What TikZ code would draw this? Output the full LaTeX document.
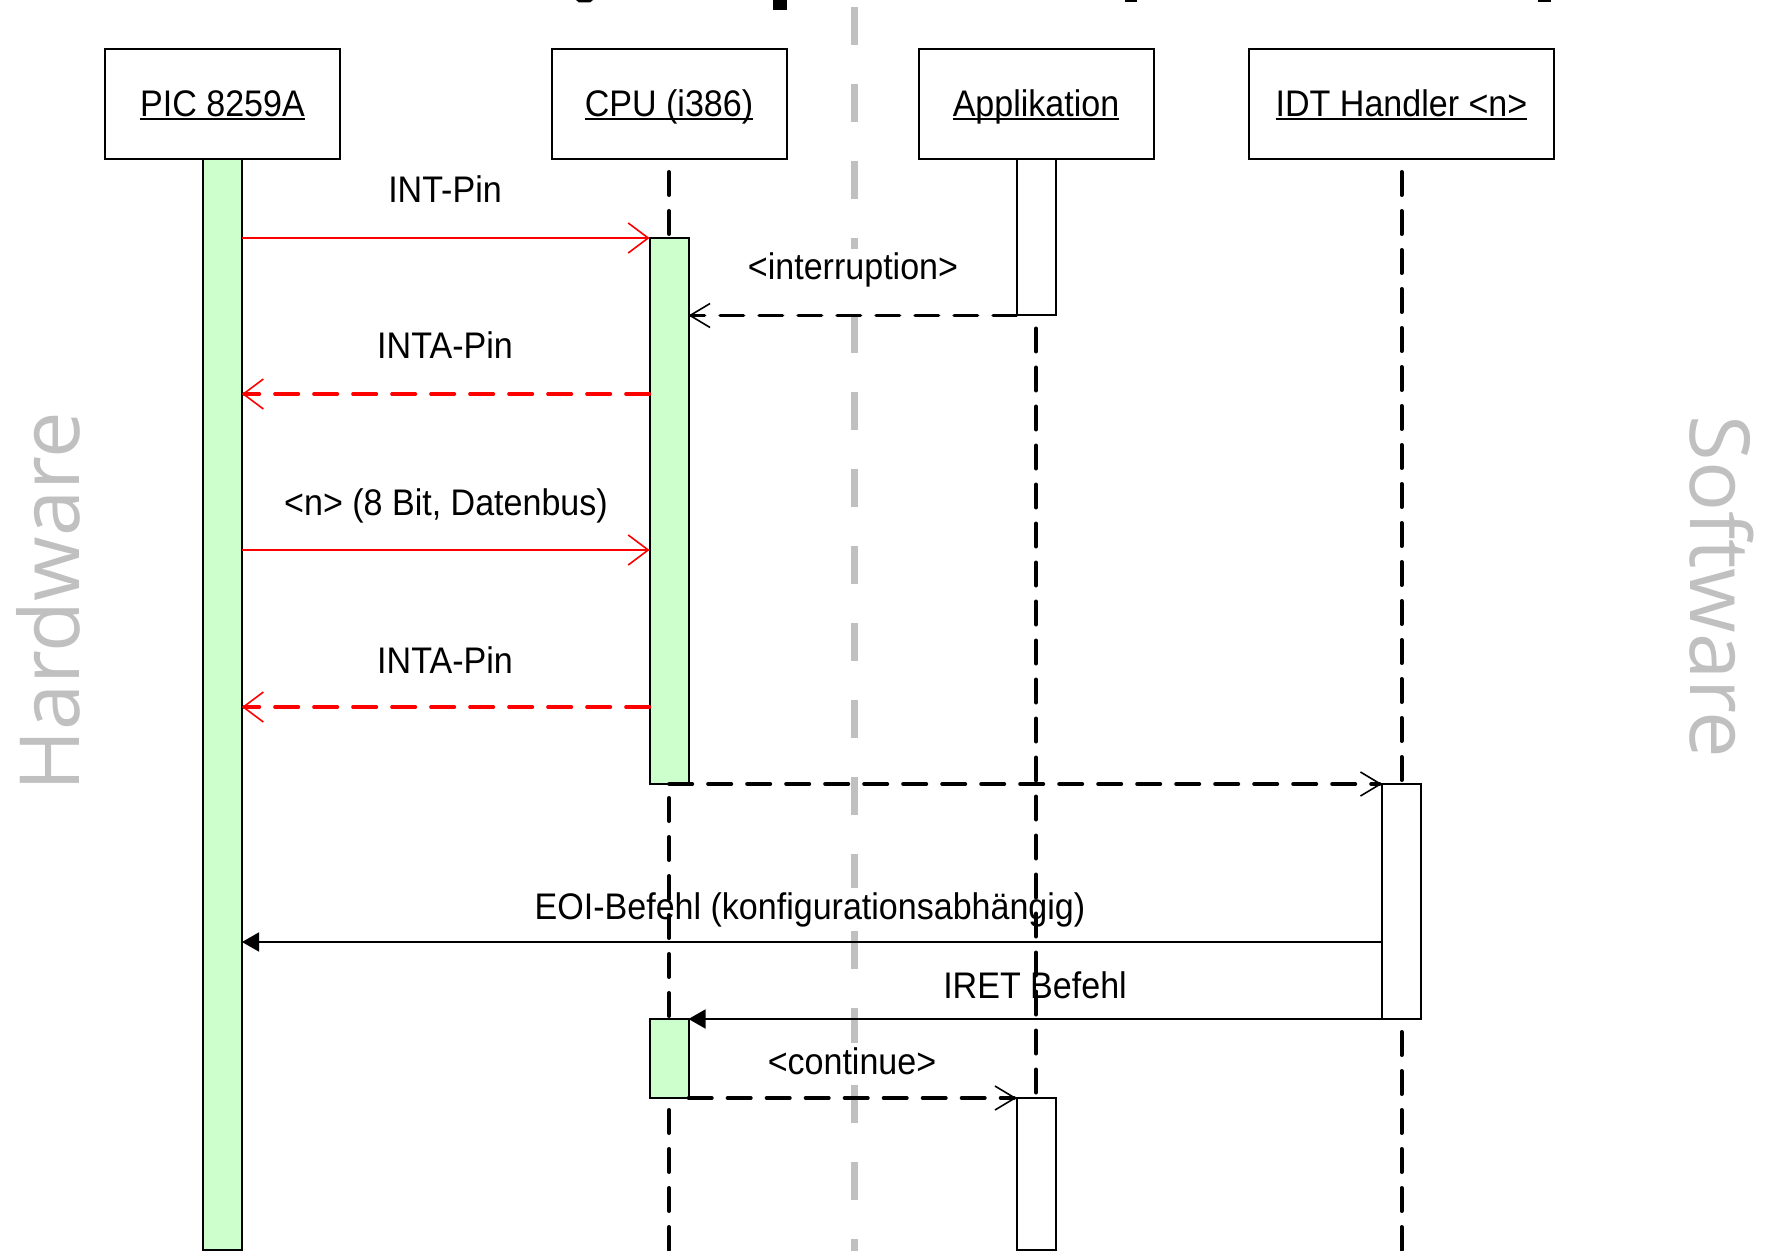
\documentclass[tikz,border=0pt]{standalone}
\usepackage{fontspec}
\setmainfont{Liberation Sans}[FakeStretch=0.92]
\newfontfamily\sidefont{Open Sans}
\usetikzlibrary{arrows.meta}
\definecolor{actgreen}{HTML}{CCFFCC}
\definecolor{sepgray}{HTML}{C0C0C0}
\definecolor{sigred}{HTML}{FF0000}
% underlined participant title with a tight rule under the baseline
\newcommand\headtitle[1]{\setbox0=\hbox{#1}\rlap{\vrule height -0.4pt depth 1.4pt width \wd0}\box0}

\begin{document}
\begin{tikzpicture}[x=0.5pt,y=-0.5pt,
  every node/.style={inner sep=0pt,outer sep=0pt},
  txt/.style={font=\fontsize{18.5pt}{22pt}\selectfont},
  headbox/.style={txt,draw,line width=1pt,fill=white,minimum height=55pt,text height=13pt,text depth=0pt},
  actbox/.style={draw,line width=1pt,minimum width=19.5pt,anchor=north},
  hwact/.style={actbox,fill=actgreen},
  swact/.style={actbox,fill=white},
  lifeline/.style={line width=2pt,line cap=round,dash pattern=on 11.5pt off 8pt},
  separator/.style={sepgray,line width=3.8pt,dash pattern=on 19pt off 19.5pt},
  msglabel/.style={txt,anchor=base,fill=white,inner xsep=1pt,inner ysep=2pt},
  sidelabel/.style={font=\sidefont\fontsize{41.5pt}{48pt}\selectfont,text=sepgray,anchor=base},
  opentip/.style={-{Straight Barb[length=10pt,width=#1,line width=0.8pt]}},
  hwcall/.style={sigred,line width=0.9pt,opentip=15pt},
  hwreply/.style={sigred,line width=1.7pt,line cap=round,dash pattern=on 11.8pt off 7.7pt,opentip=15pt},
  swreply/.style={black,line width=1.8pt,line cap=round,dash pattern=on 11.7pt off 7.8pt,opentip=12pt},
  swcall/.style={black,line width=0.9pt,-{Triangle[length=8.5pt,width=9.5pt]}},
]
\fill[white] (0,0) rectangle (1766,1251);
\useasboundingbox (0,0) rectangle (1766,1251);

% lower ends of the large heading glyphs above the picture
\fill (576,0) -- (593,0) -- (590,2.5) -- (579,2.5) -- cycle;
\fill (773,0) rectangle (787,10);
\fill (1125,0) rectangle (1137,2.5);
\fill (1538,0) rectangle (1551,2.5);

% message rows
\coordinate (r1) at (0,238);
\coordinate (r3) at (0,394);
\coordinate (r4) at (0,550);
\coordinate (r5) at (0,707);
\coordinate (r6) at (0,784);
\coordinate (r7) at (0,942);
\coordinate (r8) at (0,1019);
\coordinate (r9) at (0,1098);
\coordinate (bottom) at (0,1251);

% hardware / software border
\coordinate (septop) at (854.5,7);
\coordinate (sepbot) at (854.5,1251);
\draw[separator] (septop) -- (sepbot);

\node[sidelabel,rotate=90] (hw) at (79,602) {Hardware};
\node[sidelabel,rotate=-90] (sw) at (1690,587) {Software};

% message labels
\node[msglabel] (lint) at (445,203) {INT-Pin};
\node[msglabel] (lirq) at (853,280) {<interruption>};
\node[msglabel] (linta1) at (445,359) {INTA-Pin};
\node[msglabel] (lvec) at (446,515) {<n> (8 Bit, Datenbus)};
\node[msglabel] (linta2) at (445,673) {INTA-Pin};
\node[msglabel] (leoi) at (810,919) {EOI-Befehl (konfigurationsabhängig)};
\node[msglabel] (liret) at (1035,998) {IRET Befehl};
\node[msglabel] (lcont) at (852,1074) {<continue>};

% participants
\node[headbox,minimum width=117.5pt] (pic) at (222.5,104) {\headtitle{PIC 8259A}};
\node[headbox,minimum width=117.5pt] (cpu) at (669,104) {\headtitle{CPU (i386)}};
\node[headbox,minimum width=117.5pt] (app) at (1036,104) {\headtitle{Applikation}};
\node[headbox,minimum width=152.5pt] (idt) at (1401.5,104) {\headtitle{IDT Handler <n>}};

% activations
\node[hwact,minimum height=545.5pt] (picact) at (pic.south) {};
\node[hwact,minimum height=273pt] (cpuact1) at (cpu.south |- r1) {};
\node[swact,minimum height=78.25pt] (appact1) at (app.south) {};
\node[swact,minimum height=117.5pt] (idtact) at (idt.south |- r6) {};
\node[hwact,minimum height=39.5pt] (cpuact2) at (cpu.south |- r8) {};
\node[swact,minimum height=76pt] (appact2) at (app.south |- r9) {};

% lifelines
\draw[lifeline] ([yshift=-6.5pt]cpu.south) -- (cpuact1.north);
\draw[lifeline] ([yshift=-7pt]cpuact1.south) -- (cpuact2.north);
\draw[lifeline] ([yshift=-6pt]cpuact2.south) -- (cpu.south |- bottom);
\draw[lifeline] ([yshift=-6.5pt]appact1.south) -- (appact2.north);
\draw[lifeline] ([yshift=-6.5pt]idt.south) -- (idtact.north);
\draw[lifeline] ([yshift=-6.5pt]idtact.south) -- (idt.south |- bottom);

% messages
\draw[hwcall] (picact.east |- r1) -- (cpuact1.north west);
\draw[swreply] (appact1.south west) -- (cpuact1.east |- appact1.south west);
\draw[hwreply] (cpuact1.west |- r3) -- (picact.east |- r3);
\draw[hwcall] (picact.east |- r4) -- (cpuact1.west |- r4);
\draw[hwreply] (cpuact1.west |- r5) -- (picact.east |- r5);
\draw[swreply] (cpuact1.south) -- (idtact.north west);
\draw[swcall] (idtact.west |- r7) -- (picact.east |- r7);
\draw[swcall] (idtact.south west) -- (cpuact2.north east);
\draw[swreply] (cpuact2.south east) -- (appact2.north west);
\end{tikzpicture}
\end{document}
